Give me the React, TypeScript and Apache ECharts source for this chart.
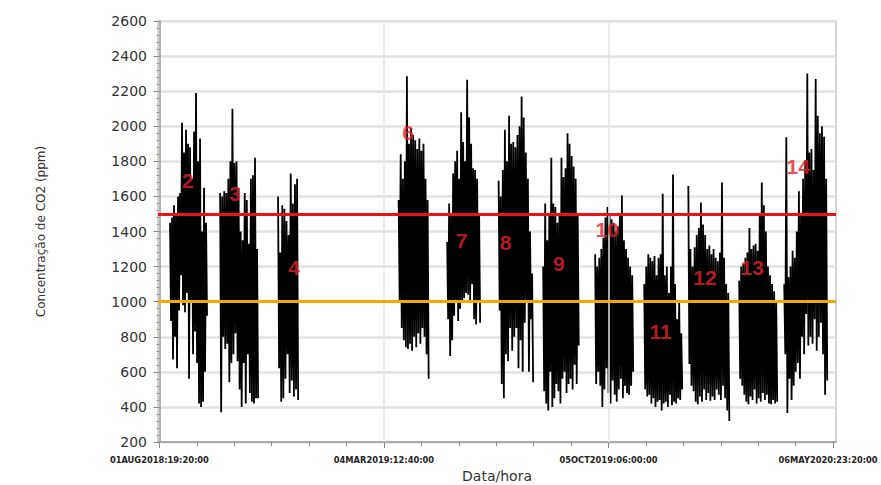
import React, { useEffect, useRef } from 'react';
import * as echarts from 'echarts';

// x values: days since 01AUG2018 19:20:00
const tickLabels = ['01AUG2018:19:20:00', '04MAR2019:12:40:00', '05OCT2019:06:00:00', '06MAY2020:23:20:00'];
const majorStepDays = 214 + 17 / 24 + 20 / 1440; // 214 d 17 h 20 min
const xMin = -1.3;
const xMax = 647;
const yMin = 200;
const yMax = 2600;
const yStep = 200;
const limitHigh = 1500;
const limitLow = 1000;

// Measurement campaigns (start / end day) and CO2 readings (ppm)
const clusterStart = [10.2, 58.1, 113.5, 228.8, 275.2, 324.4, 367.0, 416.7, 463.6, 505.8, 554.4, 597.5];
const clusterEnd = [45.6, 94.4, 132.7, 257.5, 306.7, 357.4, 401.0, 453.1, 500.0, 545.0, 590.8, 638.6];

const c2 = [1450, 890, 1480, 670, 1550, 800, 1500, 620, 1600, 950, 1620, 1150, 2020, 980, 1850, 940, 1980, 1050, 1900, 560, 1880, 1000, 1700, 700, 1970, 830, 2190, 650, 1800, 420, 1930, 400, 1400, 430, 1650, 600, 1450, 920];
const c3 = [1620, 370, 1600, 800, 1630, 730, 1620, 760, 1700, 540, 1800, 650, 2100, 700, 1790, 820, 1800, 660, 1650, 500, 1400, 400, 1350, 650, 1620, 420, 1580, 700, 1330, 480, 1700, 430, 1720, 420, 1820, 450, 1300, 450];
const c4 = [1600, 620, 1280, 430, 1550, 450, 1530, 560, 1460, 700, 1380, 480, 1730, 550, 1560, 460, 1670, 500, 1700, 440];
const c6 = [1580, 1000, 1840, 850, 1700, 780, 1800, 740, 2285, 730, 1900, 760, 1990, 720, 1950, 800, 1920, 740, 1870, 820, 1930, 760, 1860, 850, 1900, 800, 1700, 700, 1580, 560];
const c7 = [1340, 900, 1560, 690, 1500, 780, 1730, 920, 1800, 1000, 1860, 890, 1700, 960, 2080, 1000, 1910, 1020, 1800, 1050, 2265, 1040, 2050, 1010, 1900, 1100, 1760, 900, 1750, 870, 1700, 1000, 1500, 880];
const c8 = [1690, 950, 1600, 530, 1750, 450, 1980, 700, 1800, 660, 2060, 850, 1900, 720, 1910, 800, 1880, 850, 1950, 620, 2000, 780, 2170, 600, 2050, 880, 1850, 1000, 1700, 600, 1400, 900, 1160, 540];
const c9 = [1200, 490, 1560, 420, 1350, 380, 1500, 600, 1820, 400, 1560, 450, 1540, 530, 1450, 490, 1500, 420, 1820, 560, 1710, 600, 1760, 480, 1960, 530, 1900, 560, 1830, 500, 1770, 640, 1700, 530, 1500, 750];
const c10 = [1270, 530, 1200, 600, 1250, 520, 1300, 400, 1365, 500, 1480, 620, 1540, 480, 1500, 420, 1470, 550, 1450, 470, 1400, 430, 1430, 500, 1500, 560, 1605, 450, 1350, 520, 1300, 480, 1250, 470, 1200, 520, 1150, 600];
const c11 = [1100, 500, 1200, 460, 1270, 470, 1250, 420, 1230, 450, 1260, 400, 1150, 430, 1250, 440, 1270, 380, 1615, 420, 1150, 430, 1200, 400, 1050, 470, 1200, 410, 1725, 430, 1100, 420, 900, 450, 1000, 440, 820, 500];
const c12 = [1660, 645, 1300, 520, 1200, 490, 1310, 430, 1380, 415, 1420, 460, 1565, 430, 1440, 500, 1380, 440, 1300, 480, 1320, 435, 1270, 460, 1300, 440, 1250, 500, 1230, 470, 1280, 440, 1680, 520, 1250, 450, 1100, 380, 1050, 320];
const c13 = [1120, 560, 1200, 520, 1215, 470, 1250, 430, 1280, 415, 1420, 460, 1300, 440, 1320, 500, 1330, 420, 1290, 450, 1500, 430, 1680, 480, 1550, 440, 1400, 470, 1200, 420, 1150, 415, 1100, 440, 1060, 420, 1000, 430];
const c14 = [1100, 700, 1937, 365, 1140, 560, 1200, 440, 1290, 520, 1250, 600, 1400, 650, 1630, 560, 1500, 800, 1700, 700, 1805, 930, 2300, 750, 1850, 800, 1870, 760, 1750, 900, 2270, 720, 2060, 800, 1960, 880, 2000, 700, 1940, 470, 1700, 550];
const clusterValues = [c2, c3, c4, c6, c7, c8, c9, c10, c11, c12, c13, c14];

const labelNames = ['2', '3', '4', '6', '7', '8', '9', '10', '11', '12', '13', '14'];
const labelDay = [27.2, 72.4, 128.8, 237.9, 288.9, 331, 382, 428.2, 479.2, 521.7, 566.9, 610.9];
const labelPpm = [1691, 1615, 1196, 1962, 1349, 1339, 1219, 1410, 830, 1139, 1196, 1771];

export default function App() {
  const ref = useRef<HTMLDivElement>(null);
  useEffect(() => {
    if (!ref.current) return;
    const chart = echarts.init(ref.current, null, { renderer: 'svg' });
    const majorValues = tickLabels.map((_, i) => i * majorStepDays);
    const minorValues: number[] = [];
    for (let k = 1; k < 18; k++) if (k % 6 !== 0) minorValues.push((k * majorStepDays) / 6);

    const dataSeries = clusterValues.map((vals, ci) => {
      const s = clusterStart[ci];
      const e = clusterEnd[ci];
      return {
        type: 'line',
        xAxisIndex: 0,
        data: vals.map((v, i) => [s + ((e - s) * i) / (vals.length - 1), v]),
        symbol: 'none',
        lineStyle: { color: '#000', width: 1.8, join: 'miter' },
        z: 3,
        silent: true,
      };
    });

    const tickFont = { fontFamily: 'DejaVu Sans', fontWeight: 'bold', fontSize: 8.3, color: '#222' };

    const option: any = {
      animation: false,
      backgroundColor: '#fff',
      grid: {
        left: 158,
        right: 45,
        top: 21,
        bottom: 43,
        show: true,
        borderColor: '#c8c8c8',
        borderWidth: 1.5,
        backgroundColor: 'transparent',
        containLabel: false,
        outerBoundsMode: 'none',
      },
      xAxis: [
        {
          type: 'value',
          min: xMin,
          max: xMax,
          name: 'Data/hora',
          nameLocation: 'middle',
          nameGap: 26,
          nameTextStyle: { fontFamily: 'DejaVu Sans', fontSize: 14, color: '#333' },
          axisLine: { show: true, lineStyle: { color: '#9a9a9a', width: 1.5 } },
          axisTick: { show: true, customValues: majorValues, length: 6, lineStyle: { color: '#8a8a8a' } },
          axisLabel: {
            customValues: majorValues,
            margin: 14,
            ...tickFont,
            rich: { last: { ...tickFont, padding: [0, 10, 0, 0] } },
            formatter: (v: number) => {
              const idx = Math.round(v / majorStepDays);
              if (!(Math.abs(v - idx * majorStepDays) < 0.5 && tickLabels[idx])) return '';
              return idx === tickLabels.length - 1 ? '{last|' + tickLabels[idx] + '}' : tickLabels[idx];
            },
          },
          splitLine: { show: false },
        },
        {
          type: 'value',
          min: xMin,
          max: xMax,
          position: 'bottom',
          axisLine: { show: false },
          axisTick: { show: true, customValues: minorValues, length: 4, lineStyle: { color: '#8a8a8a' } },
          axisLabel: { show: false },
          splitLine: { show: false },
        },
      ],
      yAxis: {
        type: 'value',
        min: yMin,
        max: yMax,
        interval: yStep,
        name: 'Concentração de CO2 (ppm)',
        nameLocation: 'middle',
        nameGap: 111,
        nameRotate: 90,
        nameTextStyle: { fontFamily: 'DejaVu Sans', fontSize: 12, color: '#333' },
        axisLine: { show: true, lineStyle: { color: '#9a9a9a', width: 1.5 } },
        axisTick: { show: true, length: 6, lineStyle: { color: '#8a8a8a' } },
        minorTick: { show: true, splitNumber: 5, length: 3, lineStyle: { color: '#9a9a9a' } },
        axisLabel: {
          fontFamily: 'DejaVu Sans',
          fontSize: 14,
          color: '#333',
          margin: 11,
          formatter: (v: number) => String(v),
        },
        splitLine: { show: true, lineStyle: { color: '#e3e3e3', width: 2.5 } },
      },
      series: [
        {
          type: 'line',
          data: [],
          z: 1,
          silent: true,
          markLine: {
            silent: true,
            symbol: 'none',
            label: { show: false },
            lineStyle: { color: '#e6e6e6', width: 1.5, type: 'solid' },
            data: majorValues.slice(1, 3).map((v) => ({ xAxis: v })),
          },
        },
        ...dataSeries,
        {
          type: 'line',
          data: [],
          z: 10,
          silent: true,
          markLine: {
            silent: true,
            symbol: 'none',
            label: { show: false },
            data: [
              { yAxis: limitHigh, lineStyle: { color: '#e8141c', width: 3, type: 'solid' } },
              { yAxis: limitLow, lineStyle: { color: '#f5a800', width: 3, type: 'solid' } },
            ],
          },
        },
        {
          type: 'scatter',
          z: 12,
          silent: true,
          symbolSize: 1,
          itemStyle: { color: 'transparent' },
          data: labelNames.map((n, i) => ({ name: n, value: [labelDay[i], labelPpm[i]] })),
          label: {
            show: true,
            position: 'inside',
            formatter: (p: any) => p.name,
            fontFamily: 'Liberation Sans',
            fontWeight: 'bold',
            fontSize: 21,
            color: '#e3232a',
            align: 'center',
            verticalAlign: 'middle',
          },
        },
      ],
    };
    chart.setOption(option);
    return () => chart.dispose();
  }, []);
  return (
    <div
      ref={ref}
      style={{ position: 'fixed', left: 0, top: 0, width: 881, height: 485, background: '#fff' }}
    />
  );
}
